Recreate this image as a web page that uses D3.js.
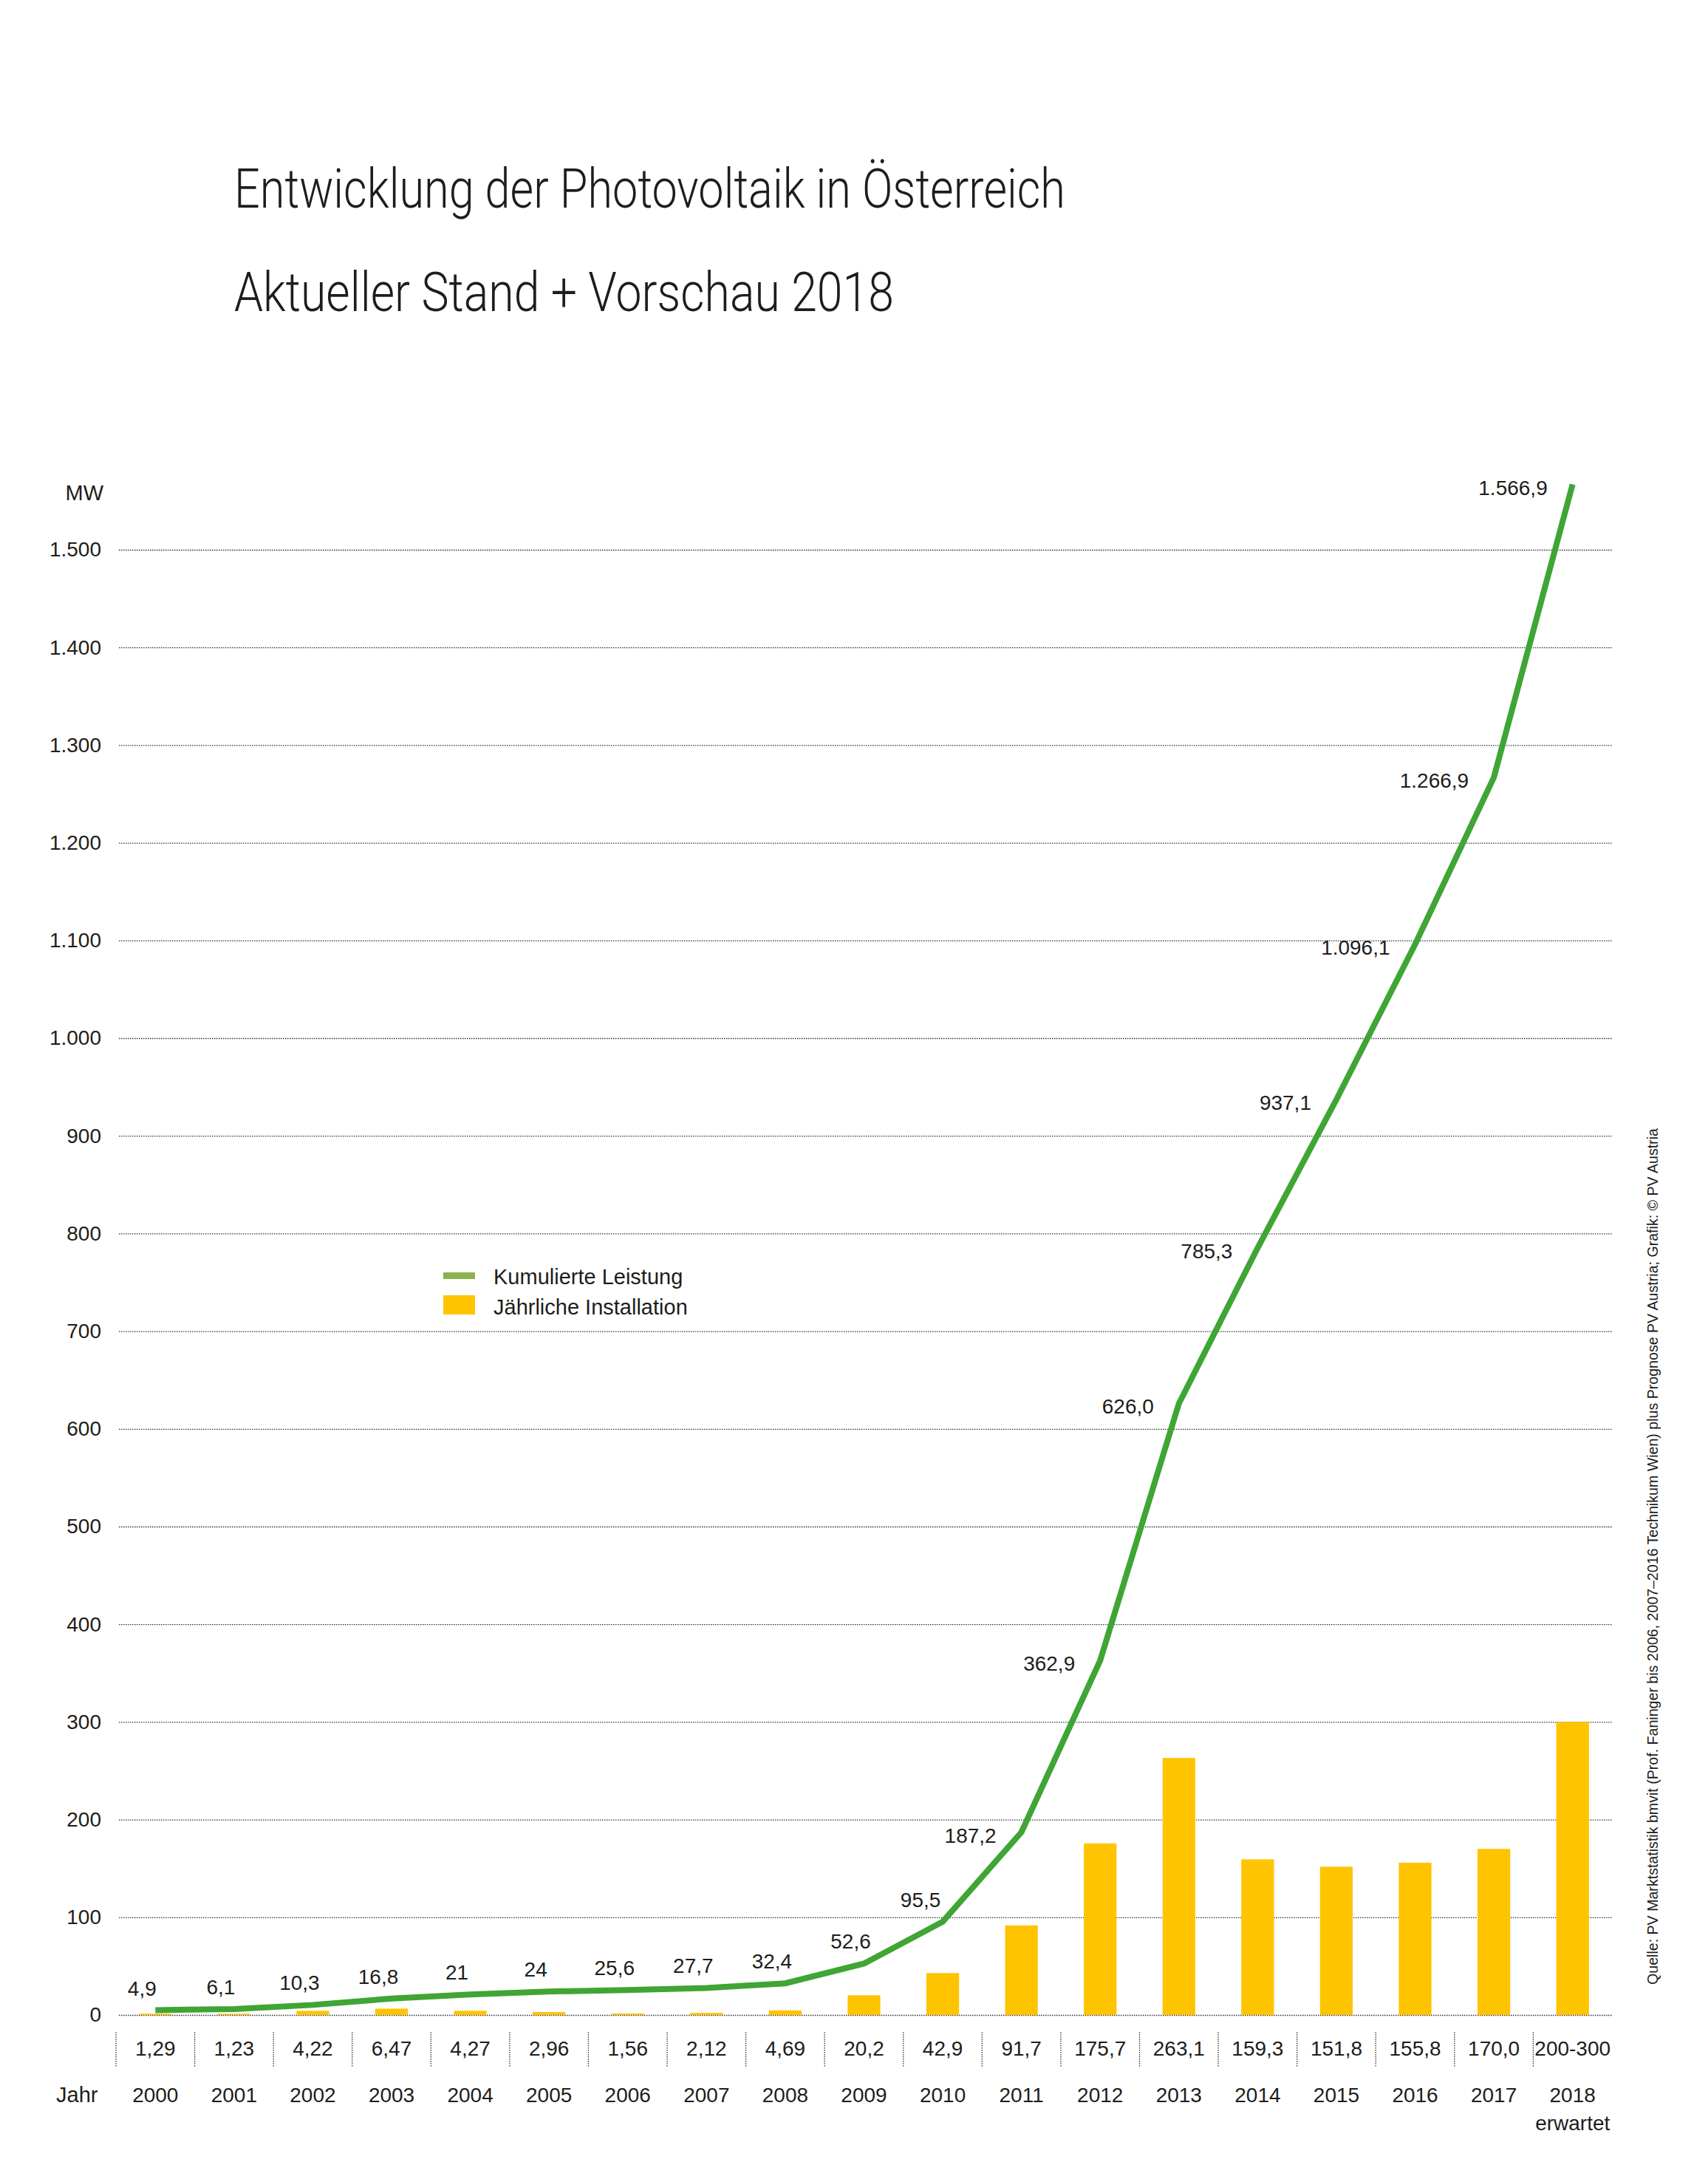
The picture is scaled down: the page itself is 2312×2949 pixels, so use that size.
<!DOCTYPE html>
<html>
<head>
<meta charset="utf-8">
<script src="https://cdn.jsdelivr.net/npm/d3@7"></script>
<style>
  html, body { margin: 0; padding: 0; background: #fff; }
</style>
</head>
<body>
<div id="chart"></div>
<script>
// --- DATA ---
const years = ['2000', '2001', '2002', '2003', '2004', '2005', '2006', '2007', '2008', '2009',
               '2010', '2011', '2012', '2013', '2014', '2015', '2016', '2017', '2018'];

// cumulative capacity (MW), line
const cumulative = [4.9, 6.1, 10.3, 16.8, 21, 24, 25.6, 27.7, 32.4, 52.6,
                    95.5, 187.2, 362.9, 626.0, 785.3, 937.1, 1096.1, 1266.9, 1566.9];
const cumulativeLabels = ['4,9', '6,1', '10,3', '16,8', '21', '24', '25,6', '27,7', '32,4', '52,6',
                          '95,5', '187,2', '362,9', '626,0', '785,3', '937,1', '1.096,1', '1.266,9', '1.566,9'];

// yearly installation (MW), bars; 2018 expected 200-300, bar drawn to 300
const annual = [1.29, 1.23, 4.22, 6.47, 4.27, 2.96, 1.56, 2.12, 4.69, 20.2,
                42.9, 91.7, 175.7, 263.1, 159.3, 151.8, 155.8, 170.0, 300];
const annualLabels = ['1,29', '1,23', '4,22', '6,47', '4,27', '2,96', '1,56', '2,12', '4,69', '20,2',
                      '42,9', '91,7', '175,7', '263,1', '159,3', '151,8', '155,8', '170,0', '200-300'];

const yTicks = [0, 100, 200, 300, 400, 500, 600, 700, 800, 900, 1000, 1100, 1200, 1300, 1400, 1500];

const titleText    = 'Entwicklung der Photovoltaik in Österreich';
const subtitleText = 'Aktueller Stand + Vorschau 2018';
const sourceText   = 'Quelle: PV Marktstatistik bmvit (Prof. Faninger bis 2006, 2007–2016 Technikum Wien) plus Prognose PV Austria; Grafik: © PV Austria';

// --- CONFIG ---
const width = 2312, height = 2949;
const FONT = "'Liberation Sans', Arial, Helvetica, sans-serif";
const INK = '#1d1d1b';
const GREEN = '#3fa535', GREEN_LEGEND = '#8bb34b', YELLOW = '#ffc400';
const gridX0 = 161, gridX1 = 2183;

const deFormat = d3.formatLocale({ decimal: ',', thousands: '.', grouping: [3] }).format(',');

const svg = d3.select('#chart')
  .append('svg')
  .attr('width', width)
  .attr('height', height)
  .style('font-family', FONT);

svg.append('rect').attr('width', width).attr('height', height).attr('fill', '#fff');

// --- SCALES ---
const x = d3.scaleBand()
  .domain(years)
  .range([157, 2182])
  .padding(0);

const y = d3.scaleLinear()
  .domain([0, 1500])
  .range([2727, 744]);

const cx = d => x(d) + x.bandwidth() / 2;
const barW = x.bandwidth() * 0.415;

// --- TITLES ---
svg.append('text')
  .attr('x', 317).attr('y', 281)
  .attr('font-family', "Roboto, 'Liberation Sans', sans-serif")
  .attr('font-weight', 300)
  .attr('font-size', 74)
  .attr('fill', INK)
  .attr('textLength', 1125)
  .attr('lengthAdjust', 'spacingAndGlyphs')
  .text(titleText);

svg.append('text')
  .attr('x', 317).attr('y', 421)
  .attr('font-family', "Roboto, 'Liberation Sans', sans-serif")
  .attr('font-weight', 300)
  .attr('font-size', 74)
  .attr('fill', INK)
  .attr('textLength', 893)
  .attr('lengthAdjust', 'spacingAndGlyphs')
  .text(subtitleText);

// --- GRID & Y AXIS ---
const yAxis = d3.axisLeft(y)
  .tickValues(yTicks)
  .tickSize(-(gridX1 - gridX0))
  .tickPadding(24)
  .tickFormat(deFormat);

const gy = svg.append('g')
  .attr('transform', `translate(${gridX0},0)`)
  .call(yAxis);

gy.select('.domain').remove();
gy.selectAll('.tick line')
  .attr('stroke', '#333')
  .attr('stroke-width', 1.3)
  .attr('stroke-dasharray', '1.5,1.5');
gy.selectAll('.tick text')
  .attr('font-family', FONT)
  .attr('font-size', 28)
  .attr('fill', INK);

svg.append('text')
  .attr('x', 140).attr('y', 677)
  .attr('text-anchor', 'end')
  .attr('font-size', 29)
  .attr('fill', INK)
  .text('MW');

// --- BARS ---
svg.append('g')
  .selectAll('rect')
  .data(years)
  .enter().append('rect')
    .attr('x', d => cx(d) - barW / 2)
    .attr('width', barW)
    .attr('y', (d, i) => y(annual[i]))
    .attr('height', (d, i) => y(0) - y(annual[i]))
    .attr('fill', YELLOW);

// --- LINE ---
const line = d3.line()
  .x(d => cx(d))
  .y((d, i) => y(cumulative[i]));

svg.append('path')
  .datum(years)
  .attr('d', line)
  .attr('fill', 'none')
  .attr('stroke', GREEN)
  .attr('stroke-width', 8)
  .attr('stroke-linejoin', 'miter');

// value labels: above the flat part, left of the steep part
const flat = i => i < 11;
svg.append('g')
  .selectAll('text')
  .data(years)
  .enter().append('text')
    .attr('x', (d, i) => flat(i) ? cx(d) - (i === 10 ? 30 : 18) : cx(d) - 34)
    .attr('y', (d, i) => flat(i) ? y(cumulative[i]) - 20 : y(cumulative[i]) + 14)
    .attr('text-anchor', (d, i) => flat(i) ? 'middle' : 'end')
    .attr('font-size', 28)
    .attr('fill', INK)
    .text((d, i) => cumulativeLabels[i]);

// --- BOTTOM TABLE: yearly values + years ---
const bottom = svg.append('g');

bottom.selectAll('line.sep')
  .data(years)
  .enter().append('line')
    .attr('class', 'sep')
    .attr('x1', d => x(d)).attr('x2', d => x(d))
    .attr('y1', 2750).attr('y2', 2797)
    .attr('stroke', '#333')
    .attr('stroke-width', 1.3)
    .attr('stroke-dasharray', '1.5,1.5');

bottom.selectAll('text.val')
  .data(years)
  .enter().append('text')
    .attr('class', 'val')
    .attr('x', d => cx(d))
    .attr('y', 2782)
    .attr('text-anchor', 'middle')
    .attr('font-size', 28)
    .attr('fill', INK)
    .text((d, i) => annualLabels[i]);

bottom.selectAll('text.year')
  .data(years)
  .enter().append('text')
    .attr('class', 'year')
    .attr('x', d => cx(d))
    .attr('y', 2845)
    .attr('text-anchor', 'middle')
    .attr('font-size', 28)
    .attr('fill', INK)
    .text(d => d);

bottom.append('text')
  .attr('x', cx('2018'))
  .attr('y', 2883)
  .attr('text-anchor', 'middle')
  .attr('font-size', 28)
  .attr('fill', INK)
  .text('erwartet');

bottom.append('text')
  .attr('x', 76)
  .attr('y', 2845)
  .attr('font-size', 29)
  .attr('fill', INK)
  .text('Jahr');

// --- LEGEND ---
const legend = svg.append('g');
legend.append('rect')
  .attr('x', 600).attr('y', 1722).attr('width', 43).attr('height', 9)
  .attr('fill', GREEN_LEGEND);
legend.append('rect')
  .attr('x', 600).attr('y', 1753).attr('width', 43).attr('height', 26)
  .attr('fill', YELLOW);
legend.append('text')
  .attr('x', 668).attr('y', 1738)
  .attr('font-size', 29).attr('fill', INK)
  .text('Kumulierte Leistung');
legend.append('text')
  .attr('x', 668).attr('y', 1779)
  .attr('font-size', 29).attr('fill', INK)
  .text('Jährliche Installation');

// --- SOURCE (rotated) ---
svg.append('text')
  .attr('transform', 'translate(2244,2686) rotate(-90)')
  .attr('font-size', 20)
  .attr('fill', INK)
  .attr('textLength', 1159)
  .attr('lengthAdjust', 'spacingAndGlyphs')
  .text(sourceText);
</script>
</body>
</html>
